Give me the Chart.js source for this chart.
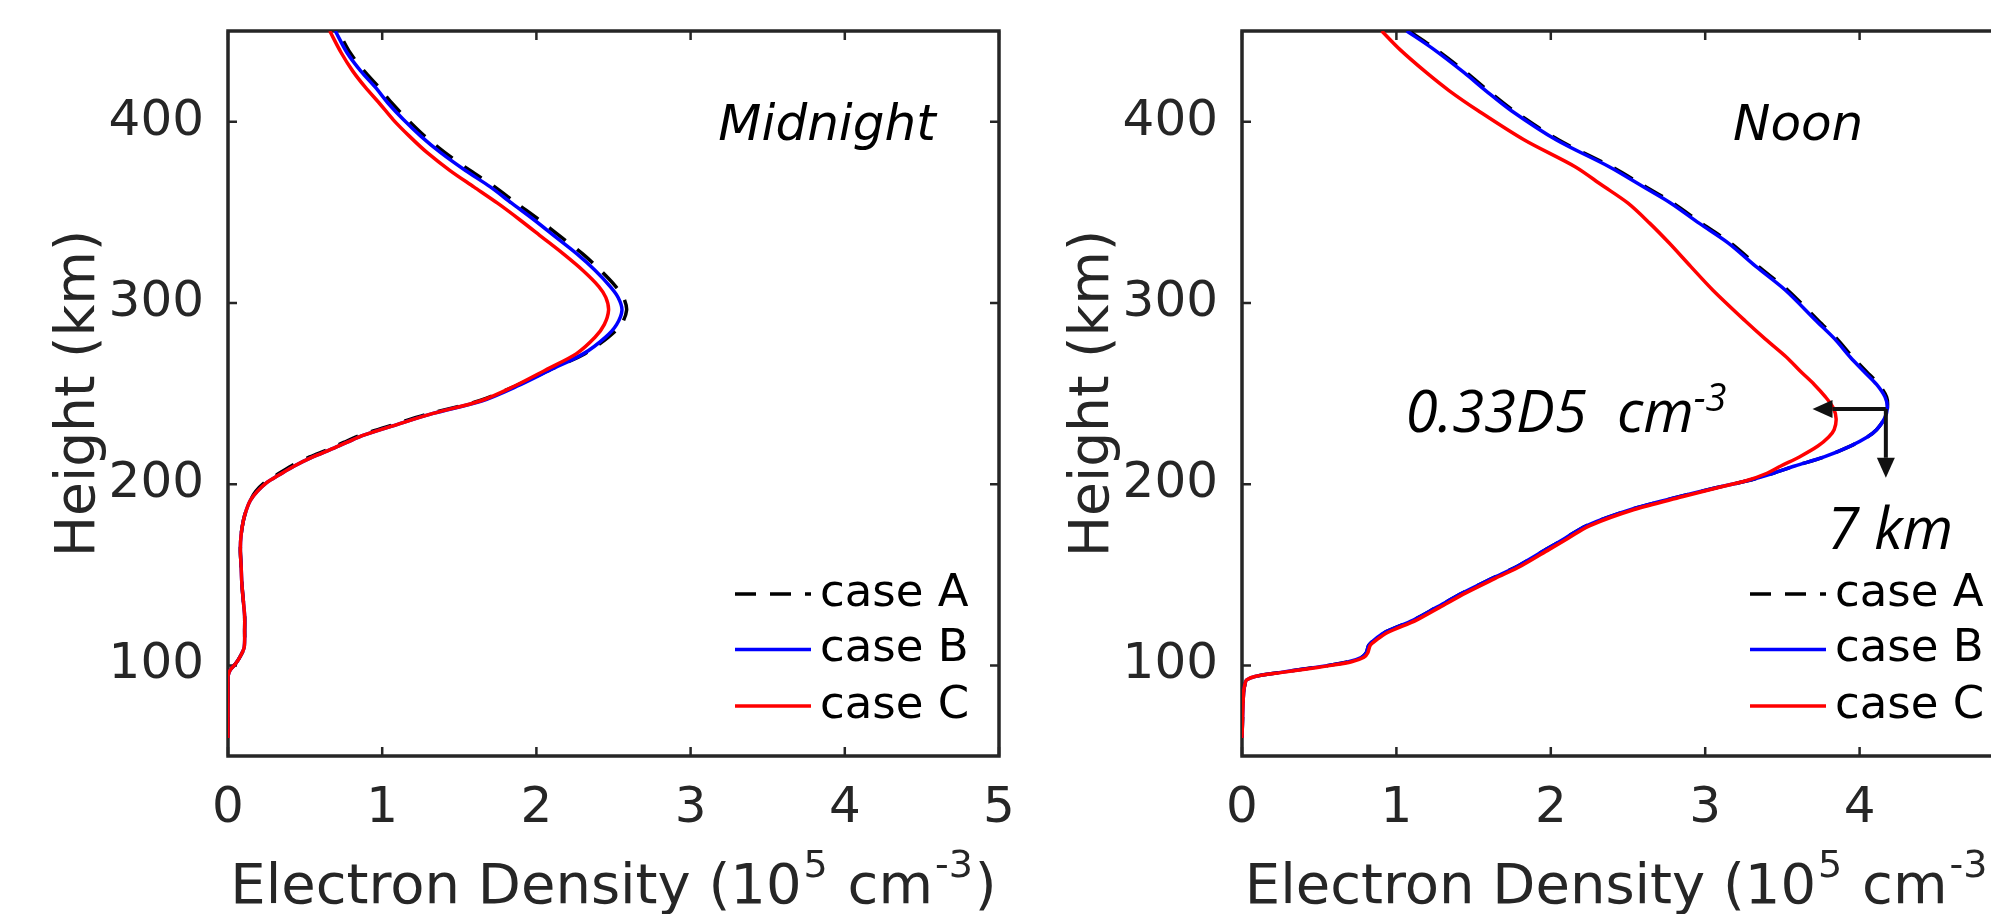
<!DOCTYPE html>
<html>
<head>
<meta charset="utf-8">
<title>Electron Density - Midnight / Noon</title>
<script src="https://cdn.jsdelivr.net/npm/chart.js"></script>
<style>
  html, body { margin: 0; padding: 0; background: #fff; overflow: hidden; }
  body { width: 1991px; height: 914px; position: relative; }
  canvas { position: absolute; top: 0; }
  #midnight-chart { left: 0; }
  #noon-chart { left: 1014px; }
</style>
</head>
<body>
<canvas id="midnight-chart" width="1040" height="914"></canvas>
<canvas id="noon-chart" width="1012" height="914"></canvas>
<script>
// Datos: altura (km) y densidad electrónica (1e5 cm^-3)
const midnightHeights = [60, 90, 94, 97.5, 101, 105, 110, 120, 127, 135,
  145, 155, 164, 172, 180, 186, 191, 196, 201, 205,
  210, 215, 219, 223, 227, 233, 239, 246, 254, 263,
  272, 281, 288, 296, 303, 309, 318, 327, 336, 346,
  355, 364, 373, 383, 392, 401, 410, 419, 428, 438, 450];
const midnightCaseA = [0, 0, 0, 0.015, 0.05, 0.08, 0.105, 0.108, 0.108, 0.10,
  0.09, 0.085, 0.08, 0.085, 0.10, 0.12, 0.145, 0.18, 0.24, 0.315,
  0.41, 0.53, 0.645, 0.75, 0.86, 1.08, 1.31, 1.63, 1.86, 2.085,
  2.315, 2.465, 2.55, 2.585, 2.565, 2.515, 2.415, 2.30, 2.165, 2.015,
  1.87, 1.73, 1.57, 1.405, 1.275, 1.165, 1.065, 0.978, 0.882, 0.792, 0.715];
const midnightCaseB = [0, 0, 0, 0.015, 0.05, 0.08, 0.105, 0.108, 0.108, 0.10,
  0.09, 0.085, 0.08, 0.085, 0.10, 0.12, 0.145, 0.19, 0.253, 0.33,
  0.43, 0.55, 0.663, 0.77, 0.88, 1.10, 1.33, 1.65, 1.874, 2.09,
  2.306, 2.447, 2.52, 2.555, 2.53, 2.479, 2.38, 2.263, 2.13, 1.982,
  1.84, 1.701, 1.54, 1.377, 1.25, 1.139, 1.04, 0.955, 0.86, 0.772, 0.696];
const midnightCaseC = [0, 0, 0, 0.015, 0.05, 0.08, 0.105, 0.108, 0.108, 0.10,
  0.09, 0.085, 0.08, 0.085, 0.10, 0.12, 0.145, 0.19, 0.253, 0.33,
  0.43, 0.55, 0.663, 0.77, 0.88, 1.10, 1.33, 1.64, 1.855, 2.06,
  2.26, 2.38, 2.44, 2.468, 2.45, 2.405, 2.30, 2.175, 2.04, 1.89,
  1.748, 1.594, 1.44, 1.29, 1.176, 1.072, 0.983, 0.89, 0.808, 0.734, 0.66];

const noonHeights = [60, 85, 90, 92, 94, 96, 98, 100, 102, 104.5,
  107, 111, 114, 118, 125, 132, 140, 148, 155, 164,
  170, 177, 186, 193, 198, 202, 206, 210, 215, 221,
  226, 230, 236, 242, 248, 255, 262, 270, 280, 290,
  307, 320, 333, 344, 355, 365, 375, 390, 406, 417,
  427, 440, 450];
const noonCaseA = [0, 0.01, 0.02, 0.03, 0.09, 0.24, 0.40, 0.56, 0.69, 0.775,
  0.805, 0.82, 0.855, 0.92, 1.11, 1.26, 1.43, 1.62, 1.79, 1.97,
  2.09, 2.23, 2.52, 2.83, 3.07, 3.28, 3.44, 3.58, 3.77, 3.94,
  4.05, 4.11, 4.16, 4.18, 4.175, 4.125, 4.045, 3.955, 3.855, 3.735,
  3.535, 3.345, 3.165, 2.975, 2.793, 2.595, 2.396, 2.049, 1.76, 1.595,
  1.454, 1.255, 1.082];
const noonCaseB = [0, 0.01, 0.02, 0.03, 0.09, 0.24, 0.40, 0.56, 0.69, 0.775,
  0.805, 0.82, 0.855, 0.92, 1.11, 1.26, 1.43, 1.62, 1.79, 1.97,
  2.09, 2.23, 2.52, 2.83, 3.07, 3.28, 3.44, 3.58, 3.77, 3.94,
  4.05, 4.11, 4.16, 4.18, 4.165, 4.11, 4.03, 3.94, 3.84, 3.72,
  3.52, 3.33, 3.15, 2.96, 2.778, 2.58, 2.381, 2.034, 1.745, 1.58,
  1.439, 1.24, 1.067];
const noonCaseC = [0, 0.01, 0.02, 0.03, 0.09, 0.25, 0.42, 0.58, 0.71, 0.79,
  0.815, 0.83, 0.87, 0.94, 1.13, 1.28, 1.45, 1.64, 1.81, 1.99,
  2.11, 2.25, 2.54, 2.85, 3.08, 3.27, 3.40, 3.49, 3.61, 3.73,
  3.80, 3.835, 3.848, 3.83, 3.78, 3.706, 3.62, 3.527, 3.39, 3.26,
  3.05, 2.907, 2.767, 2.64, 2.50, 2.33, 2.16, 1.826, 1.53, 1.343,
  1.195, 1.02, 0.905];

const caseLabels = ["case A", "case B", "case C"];
const caseColors = ["#000000", "#0000ff", "#ff0000"];
const xTickValues = [0, 1, 2, 3, 4, 5];
const yTickValues = [100, 200, 300, 400];

// Flechas del panel de mediodía (coordenadas de datos)
const noonArrows = [
  { from: [4.17, 241.5], to: [3.695, 241.5] },
  { from: [4.17, 241.5], to: [4.17, 203.5] }
];

const AXIS_COLOR = "#262626";
const FONT = "'DejaVu Sans', sans-serif";
const NOTE_FONT = "'Open Sans', sans-serif";
const LINE_WIDTH = 3.5;

document.addEventListener("DOMContentLoaded", () => {

  function toPoints(heights, values) {
    return heights.map((h, i) => ({ x: values[i], y: h }));
  }

  // texto con superíndices, alineado a la izquierda o centrado
  function drawRich(ctx, parts, x, baseline, align) {
    let total = 0;
    parts.forEach(p => {
      ctx.font = p.font;
      p.w = ctx.measureText(p.t).width + (p.gap || 0);
      total += p.w;
    });
    let cx = align === "center" ? x - total / 2 : x;
    ctx.textAlign = "left";
    ctx.textBaseline = "alphabetic";
    parts.forEach(p => {
      ctx.font = p.font;
      ctx.fillText(p.t, cx + (p.gap || 0) / 2, baseline - (p.raise || 0));
      cx += p.w;
    });
  }

  function drawArrow(ctx, x0, y0, x1, y1) {
    const ang = Math.atan2(y1 - y0, x1 - x0);
    const head = 20, half = 9;
    const bx = x1 - head * Math.cos(ang), by = y1 - head * Math.sin(ang);
    ctx.beginPath();
    ctx.moveTo(x0, y0);
    ctx.lineTo(bx, by);
    ctx.stroke();
    ctx.beginPath();
    ctx.moveTo(x1, y1);
    ctx.lineTo(bx + half * Math.sin(ang), by - half * Math.cos(ang));
    ctx.lineTo(bx - half * Math.sin(ang), by + half * Math.cos(ang));
    ctx.closePath();
    ctx.fill();
  }

  function panelPlugin(opts) {
    return {
      id: "matlabPanel",
      beforeDatasetsDraw(chart) {
        const { ctx, chartArea: a, scales: { x, y } } = chart;
        ctx.save();
        ctx.strokeStyle = AXIS_COLOR;
        ctx.lineWidth = 2.5;
        ctx.beginPath();
        xTickValues.forEach(v => {
          const px = x.getPixelForValue(v);
          ctx.moveTo(px, a.bottom); ctx.lineTo(px, a.bottom - 9);
          ctx.moveTo(px, a.top); ctx.lineTo(px, a.top + 9);
        });
        yTickValues.forEach(v => {
          const py = y.getPixelForValue(v);
          ctx.moveTo(a.left, py); ctx.lineTo(a.left + 9, py);
          ctx.moveTo(a.right, py); ctx.lineTo(a.right - 9, py);
        });
        ctx.stroke();
        ctx.lineWidth = 3.5;
        ctx.strokeRect(a.left, a.top, a.right - a.left, a.bottom - a.top);
        ctx.restore();
      },
      afterDraw(chart) {
        const { ctx, chartArea: a, scales: { x, y } } = chart;
        ctx.save();

        // títulos de ejes
        ctx.fillStyle = AXIS_COLOR;
        drawRich(ctx, [
          { t: "Electron Density (10", font: `56px ${FONT}` },
          { t: "5", font: `38px ${FONT}`, raise: 26, gap: 4 },
          { t: " cm", font: `56px ${FONT}` },
          { t: "-3", font: `38px ${FONT}`, raise: 26, gap: 4 },
          { t: ")", font: `56px ${FONT}` }
        ], (a.left + a.right) / 2, 903, "center");

        ctx.save();
        ctx.translate(a.left - 134, (a.top + a.bottom) / 2);
        ctx.rotate(-Math.PI / 2);
        ctx.font = `55px ${FONT}`;
        ctx.textAlign = "center";
        ctx.textBaseline = "alphabetic";
        ctx.fillText("Height (km)", 0, 0);
        ctx.restore();

        // leyenda
        const legendRows = [162, 106.5, 50];
        chart.data.datasets.forEach((ds, i) => {
          const ly = a.bottom - legendRows[i];
          ctx.strokeStyle = ds.borderColor;
          ctx.lineWidth = LINE_WIDTH;
          ctx.setLineDash(ds.borderDash || []);
          ctx.beginPath();
          ctx.moveTo(a.right - 264, ly);
          ctx.lineTo(a.right - 188, ly);
          ctx.stroke();
          ctx.setLineDash([]);
          ctx.fillStyle = "#000";
          ctx.font = `45px ${FONT}`;
          ctx.textAlign = "left";
          ctx.textBaseline = "middle";
          ctx.fillText(ds.label, a.right - 179, ly);
        });

        // rótulo del panel
        ctx.fillStyle = "#000";
        ctx.font = `italic 50px ${FONT}`;
        ctx.textAlign = "left";
        ctx.textBaseline = "alphabetic";
        ctx.fillText(opts.label, x.getPixelForValue(opts.labelAt[0]), y.getPixelForValue(opts.labelAt[1]));

        // anotaciones
        (opts.notes || []).forEach(n => {
          drawRich(ctx, n.parts, x.getPixelForValue(n.at[0]), y.getPixelForValue(n.at[1]), "left");
        });
        ctx.strokeStyle = "#111";
        ctx.fillStyle = "#111";
        ctx.lineWidth = 4;
        (opts.arrows || []).forEach(ar => {
          drawArrow(ctx,
            x.getPixelForValue(ar.from[0]), y.getPixelForValue(ar.from[1]),
            x.getPixelForValue(ar.to[0]), y.getPixelForValue(ar.to[1]));
        });
        ctx.restore();
      }
    };
  }

  function makeChart(id, heights, series, opts) {
    const datasets = series.map((vals, i) => ({
      label: caseLabels[i],
      data: toPoints(heights, vals),
      showLine: true,
      borderColor: caseColors[i],
      backgroundColor: caseColors[i],
      borderWidth: LINE_WIDTH,
      borderDash: i === 0 ? [21, 14] : [],
      pointRadius: 0,
      tension: 0.3,
      order: 3 - i
    }));

    return new Chart(document.getElementById(id), {
      type: "scatter",
      data: { datasets },
      options: {
        responsive: false,
        animation: false,
        devicePixelRatio: 1,
        layout: { padding: { left: 0, top: 31, right: opts.padRight, bottom: 0 } },
        plugins: { legend: { display: false }, tooltip: { enabled: false } },
        scales: {
          x: {
            type: "linear",
            min: 0,
            max: 5,
            afterBuildTicks: s => { s.ticks = xTickValues.map(v => ({ value: v })); },
            afterFit: s => { s.height = 158; s.paddingLeft = 0; s.paddingRight = 0; },
            grid: { display: false },
            border: { display: false },
            ticks: {
              color: AXIS_COLOR,
              padding: 15,
              autoSkip: false,
              maxRotation: 0,
              font: { family: FONT, size: 50, lineHeight: 1.2 }
            }
          },
          y: {
            type: "linear",
            min: 50,
            max: 450,
            afterBuildTicks: s => { s.ticks = yTickValues.map(v => ({ value: v })); },
            afterFit: s => { s.width = 228; s.paddingTop = 0; s.paddingBottom = 0; },
            grid: { display: false },
            border: { display: false },
            ticks: {
              color: AXIS_COLOR,
              padding: 16,
              font: { family: FONT, size: 50, lineHeight: 1.2 }
            }
          }
        }
      },
      plugins: [panelPlugin(opts)]
    });
  }

  makeChart("midnight-chart", midnightHeights,
    [midnightCaseA, midnightCaseB, midnightCaseC],
    { padRight: 41, label: "Midnight", labelAt: [3.18, 390] });

  makeChart("noon-chart", noonHeights,
    [noonCaseA, noonCaseB, noonCaseC],
    {
      padRight: 12,
      label: "Noon",
      labelAt: [3.18, 390],
      notes: [
        {
          at: [1.06, 229],
          parts: [
            { t: "0.33D5  cm", font: `italic 58px ${NOTE_FONT}` },
            { t: "-3", font: `italic 38px ${NOTE_FONT}`, raise: 21 }
          ]
        },
        {
          at: [3.79, 164.2],
          parts: [{ t: "7 km", font: `italic 58px ${NOTE_FONT}` }]
        }
      ],
      arrows: noonArrows
    });
});
</script>
</body>
</html>
